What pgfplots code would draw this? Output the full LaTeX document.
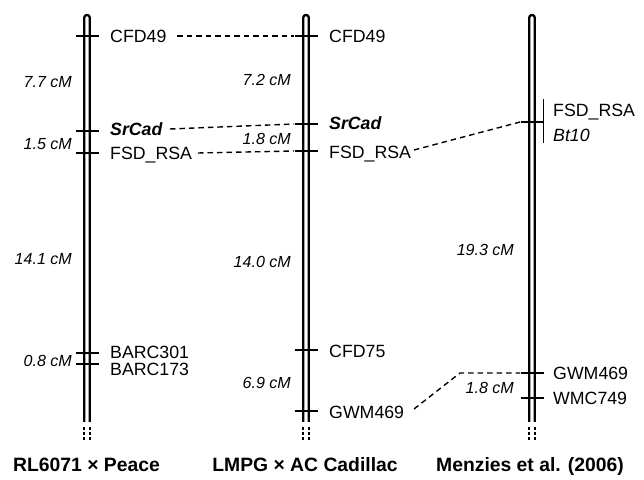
\documentclass[border=0pt]{standalone}
\usepackage{pgfplots}
\pgfplotsset{compat=1.18}
\usepackage{fontspec}
\setmainfont{Liberation Sans}
\newcommand{\mk}{\fontsize{17.8}{21}\selectfont}
\newcommand{\cm}{\fontsize{16.1}{19}\selectfont\itshape}
\newcommand{\ttl}{\fontsize{19.4}{22}\selectfont\bfseries}
\begin{document}
\begin{tikzpicture}
\begin{axis}[
  width=644bp, height=480bp, scale only axis,
  xmin=0, xmax=644, ymin=0, ymax=480, y dir=reverse,
  hide axis, clip=false,
]
\addplot[draw=none, forget plot] coordinates {(0,0)(644,480)};
% chromosome bodies
\addplot[black, line width=2.3bp] coordinates {(84.3,422)(84.3,17.7)(84.66,16.35)(85.65,15.36)(87,15)(88.35,15.36)(89.34,16.35)(89.7,17.7)(89.7,422)};
\addplot[black, line width=2.3bp] coordinates {(303.3,422)(303.3,17.7)(303.66,16.35)(304.65,15.36)(306,15)(307.35,15.36)(308.34,16.35)(308.7,17.7)(308.7,422)};
\addplot[black, line width=2.3bp] coordinates {(529.3,422)(529.3,17.7)(529.66,16.35)(530.65,15.36)(532,15)(533.35,15.36)(534.34,16.35)(534.7,17.7)(534.7,422)};
% dotted ends
\addplot[black, line width=2.3bp, dash pattern=on 3bp off 2bp] coordinates {(84.3,427)(84.3,440)};
\addplot[black, line width=2.3bp, dash pattern=on 3bp off 2bp] coordinates {(89.7,427)(89.7,440)};
\addplot[black, line width=2.3bp, dash pattern=on 3bp off 2bp] coordinates {(303.3,427)(303.3,440)};
\addplot[black, line width=2.3bp, dash pattern=on 3bp off 2bp] coordinates {(308.7,427)(308.7,440)};
\addplot[black, line width=2.3bp, dash pattern=on 3bp off 2bp] coordinates {(529.3,427)(529.3,440)};
\addplot[black, line width=2.3bp, dash pattern=on 3bp off 2bp] coordinates {(534.7,427)(534.7,440)};
% ticks chr1
\addplot[black, line width=1.8bp] coordinates {(75.5,36)(98.5,36)};
\addplot[black, line width=1.8bp] coordinates {(75.5,131)(98.5,131)};
\addplot[black, line width=1.8bp] coordinates {(75.5,153)(98.5,153)};
\addplot[black, line width=1.8bp] coordinates {(75.5,353)(98.5,353)};
\addplot[black, line width=1.8bp] coordinates {(75.5,364)(98.5,364)};
% ticks chr2
\addplot[black, line width=1.8bp] coordinates {(294.5,36)(317.5,36)};
\addplot[black, line width=1.8bp] coordinates {(294.5,124)(317.5,124)};
\addplot[black, line width=1.8bp] coordinates {(294.5,151)(317.5,151)};
\addplot[black, line width=1.8bp] coordinates {(294.5,350)(317.5,350)};
\addplot[black, line width=1.8bp] coordinates {(294.5,411)(317.5,411)};
% ticks chr3
\addplot[black, line width=1.8bp] coordinates {(520.5,122)(543.5,122)};
\addplot[black, line width=1.8bp] coordinates {(543.5,99)(543.5,143)};
\addplot[black, line width=1.8bp] coordinates {(520.5,373)(543.5,373)};
\addplot[black, line width=1.8bp] coordinates {(520.5,398)(543.5,398)};
% dashed connectors
\addplot[black, line width=1.4bp, dash pattern=on 5.5bp off 4bp] coordinates {(177,36)(294,36)};
\addplot[black, line width=1.4bp, dash pattern=on 5.5bp off 4bp] coordinates {(170,129)(294,124)};
\addplot[black, line width=1.4bp, dash pattern=on 5.5bp off 4bp] coordinates {(198,153)(294,151)};
\addplot[black, line width=1.4bp, dash pattern=on 5.5bp off 4bp] coordinates {(414,150)(520,122)};
\addplot[black, line width=1.4bp, dash pattern=on 5.5bp off 4bp] coordinates {(414,409)(460,373)(520,373)};
% marker labels
\node[anchor=base west, inner sep=0] at (axis cs:110,42.3) {\mk CFD49};
\node[anchor=base west, inner sep=0] at (axis cs:110,135.3) {\mk\bfseries\itshape SrCad};
\node[anchor=base west, inner sep=0] at (axis cs:110,159.3) {\mk FSD\_RSA};
\node[anchor=base west, inner sep=0] at (axis cs:110,358.3) {\mk BARC301};
\node[anchor=base west, inner sep=0] at (axis cs:110,375.3) {\mk BARC173};
\node[anchor=base west, inner sep=0] at (axis cs:329,42.3) {\mk CFD49};
\node[anchor=base west, inner sep=0] at (axis cs:329,129.3) {\mk\bfseries\itshape SrCad};
\node[anchor=base west, inner sep=0] at (axis cs:329,158.3) {\mk FSD\_RSA};
\node[anchor=base west, inner sep=0] at (axis cs:329,357.3) {\mk CFD75};
\node[anchor=base west, inner sep=0] at (axis cs:329,418.3) {\mk GWM469};
\node[anchor=base west, inner sep=0] at (axis cs:553,116.3) {\mk FSD\_RSA};
\node[anchor=base west, inner sep=0] at (axis cs:553,141.3) {\mk\itshape Bt10};
\node[anchor=base west, inner sep=0] at (axis cs:553,379.3) {\mk GWM469};
\node[anchor=base west, inner sep=0] at (axis cs:553,404.3) {\mk WMC749};
% distance labels
\node[anchor=base east, inner sep=0] at (axis cs:72,87.8) {\cm 7.7 cM};
\node[anchor=base east, inner sep=0] at (axis cs:72,149.8) {\cm 1.5 cM};
\node[anchor=base east, inner sep=0] at (axis cs:72,264.8) {\cm 14.1 cM};
\node[anchor=base east, inner sep=0] at (axis cs:72,366.3) {\cm 0.8 cM};
\node[anchor=base east, inner sep=0] at (axis cs:291,85.8) {\cm 7.2 cM};
\node[anchor=base east, inner sep=0] at (axis cs:291,144.8) {\cm 1.8 cM};
\node[anchor=base east, inner sep=0] at (axis cs:291,267.8) {\cm 14.0 cM};
\node[anchor=base east, inner sep=0] at (axis cs:291,388.8) {\cm 6.9 cM};
\node[anchor=base east, inner sep=0] at (axis cs:514,255.8) {\cm 19.3 cM};
\node[anchor=base east, inner sep=0] at (axis cs:514,393.8) {\cm 1.8 cM};
% titles
\node[anchor=base, inner sep=0] at (axis cs:86.5,472) {\ttl RL6071 × Peace};
\node[anchor=base, inner sep=0] at (axis cs:305,472) {\ttl LMPG × AC Cadillac};
\node[anchor=base, inner sep=0] at (axis cs:530,472) {\ttl Menzies et al. (2006)};
\end{axis}
\end{tikzpicture}
\end{document}
